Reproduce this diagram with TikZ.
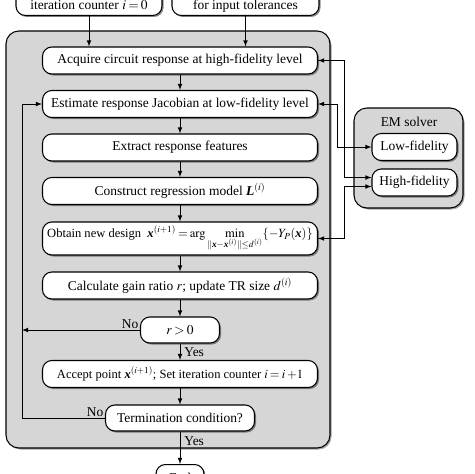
\documentclass[tikz,border=0pt]{standalone}
\usepackage{amsmath}
\usepackage{mathptmx}
\usepackage{fontspec}
\setmainfont{Liberation Serif}
\usetikzlibrary{calc,positioning,shadows}

\newcommand{\bvec}[1]{\text{\bfseries\itshape #1}}
\newcommand{\tightmath}{\thickmuskip=3mu plus 1mu\medmuskip=2mu\thinmuskip=2.5mu}

\tikzset{
	stepbox/.style={draw, line width=0.9pt, fill=white, rounded corners=8pt,
		minimum width=8.25cm, minimum height=0.81cm, inner sep=2pt,
		drop shadow={shadow xshift=1.3pt, shadow yshift=-1.3pt, fill=black!75, opacity=0.6}},
	widebox/.style={stepbox, font=\fontsize{10.7}{12.5}\selectfont\tightmath},
	panel/.style={draw, line width=0.9pt, fill=black!16, rounded corners=11pt,
		drop shadow={shadow xshift=1.3pt, shadow yshift=-1.3pt, fill=black!60, opacity=0.6}},
	link/.style={line width=0.8pt, >=latex},
}

\begin{document}
\begin{tikzpicture}[x=0.03cm, y=-0.03cm, font=\fontsize{11.5}{13.5}\selectfont\tightmath]
	\useasboundingbox (0,0) rectangle (474,474);
	
	%%%%% panels %%%%%
	\draw[panel] (6,31) rectangle (330,448);
	\draw[panel] (354,108) rectangle (463,208);
	
	%%%%% inputs %%%%%
	\node[stepbox, minimum width=4.38cm, text height=1cm, text depth=3pt, anchor=south] (init) at (89,16) {iteration counter $i=0$};
	\node[stepbox, minimum width=4.41cm, text height=1cm, text depth=3pt, anchor=south] (tol) at (245.5,16) {for input tolerances};
	
	%%%%% main loop %%%%%
	\node[stepbox] (acq) at (180,60.5) {Acquire circuit response at high-fidelity level};
	\node[stepbox] (est) at (180,104) {Estimate response Jacobian at low-fidelity level};
	\node[stepbox] (ext) at (180,147.5) {Extract response features};
	\node[stepbox] (reg) at (180,191) {Construct regression model $\bvec{L}^{(i)}$};
	\node[widebox, minimum height=0.99cm] (opt) at (180,238.5) {Obtain new design \ $\bvec{x}^{(i+1)}=\arg\min\limits_{\|\bvec{x}-\bvec{x}^{(i)}\|\le d^{(i)}}\{-Y_P(\bvec{x})\}$};
	\node[stepbox] (gain) at (180,285.5) {Calculate gain ratio $r$; update TR size $d^{(i)}$};
	\node[stepbox, minimum width=2.37cm, minimum height=0.78cm] (dec) at (180,330) {$r>0$};
	\node[widebox] (acc) at (180,374) {Accept point $\bvec{x}^{(i+1)}$; Set iteration counter $i=i\,{+}1$};
	\node[stepbox, minimum width=4.47cm, minimum height=0.78cm] (term) at (180,418) {Termination condition?};
	\node[stepbox, minimum width=1.44cm, anchor=north] (fin) at (180,464) {End};
	
	%%%%% EM solver %%%%%
	\node (em) at (409,122) {EM solver};
	\node[stepbox, minimum width=2.55cm] (lofi) at (414.5,147) {Low-fidelity};
	\node[stepbox, minimum width=2.55cm] (hifi) at (414.5,182.5) {High-fidelity};
	
	%%%%% connectors %%%%%
	\coordinate (rail) at (22,0);
	\coordinate (busA) at (344,0);
	\coordinate (busB) at (337,0);
	
	\draw[link,->] (init.south) -- (init.south |- acq.north);
	\draw[link,->] (tol.south) -- (tol.south |- acq.north);
	\foreach \a/\b in {acq/est, est/ext, ext/reg, reg/opt, opt/gain, gain/dec, acc/term}
		\draw[link,->] (\a) -- (\b);
	\draw[link,->] (dec) -- node[right]{Yes} (acc);
	\draw[link,->] (term) -- node[right, pos=0.3]{Yes} (fin);
	
	\draw[link,->] (dec.west) node[above left, inner sep=1pt]{No} -- (dec.west -| rail);
	\draw[link,->] (term.west) node[above left, inner sep=1pt]{No} -- (term.west -| rail) |- (est.west);
	
	\draw[link,<->] (acq.east) -- (acq.east -| busA) |- ($(hifi.west)+(0,-5)$);
	\draw[link,<->] (est.east) -- (est.east -| busB) |- (lofi.west);
	\draw[link,<->] (opt.east) -- (opt.east -| busA) |- ($(hifi.west)+(0,4)$);
	
\end{tikzpicture}
\end{document}
